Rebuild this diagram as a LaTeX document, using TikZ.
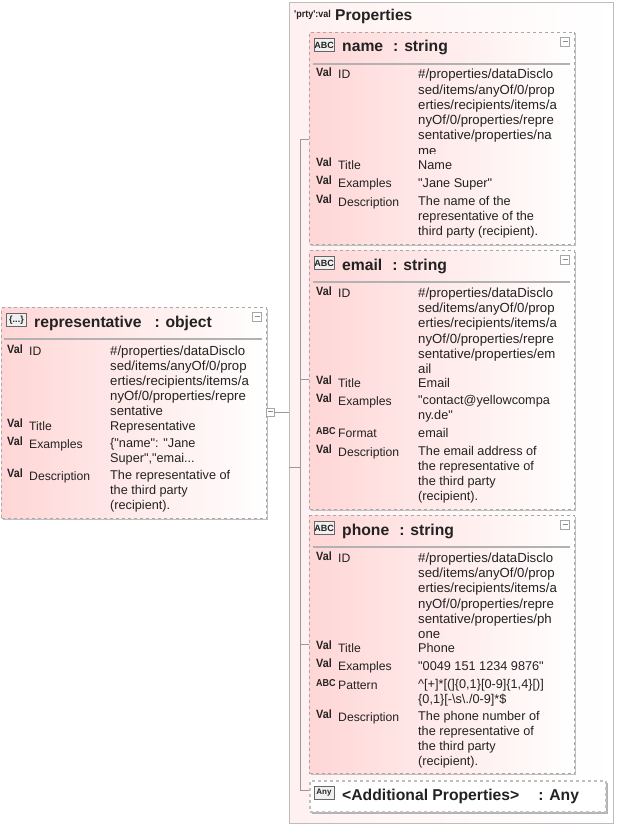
\documentclass[tikz,border=0pt]{standalone}
\usepackage{fontspec}
\setmainfont[Ligatures=TeXOff]{Liberation Sans}
\newfontfamily\valfont[FakeStretch=0.9]{Liberation Sans}
\usetikzlibrary{positioning,calc,shadows}
\definecolor{boxpink}{HTML}{FFD6D6}
\definecolor{framegray}{HTML}{BDBDBD}
\definecolor{dashgray}{HTML}{A8A8A8}
\definecolor{wiregray}{HTML}{999999}
\definecolor{inkgray}{HTML}{222222}
\newcommand{\togglebar}{\rule[2pt]{5pt}{0.7pt}}
\begin{document}
\begin{tikzpicture}[
  x=1pt, y=-1pt,
  font=\fontsize{12.2}{15}\selectfont, text=inkgray,
  outer/.style={draw=framegray, line width=1pt, left color=boxpink!35, right color=white, anchor=north west, inner sep=0pt},
  elem/.style={draw=dashgray, dashed, line width=1pt, left color=boxpink, right color=white, anchor=north west, inner sep=0pt,
               drop shadow={shadow xshift=1pt, shadow yshift=-1pt, fill=black!25, opacity=1}},
  anyelem/.style={elem, draw=black!25, line width=1.6pt, left color=white, right color=white,
               drop shadow={shadow xshift=2pt, shadow yshift=-2pt, fill=black!30, opacity=1}},
  head/.style={font=\fontsize{15.7}{18}\selectfont\bfseries, anchor=base west, inner sep=0pt},
  icon/.style={draw=black!60, fill=black!6, font=\fontsize{9}{9}\selectfont\bfseries, inner sep=0pt, minimum height=13pt, minimum width=20pt},
  toggle/.style={draw=black!35, fill=white, inner sep=0pt, minimum size=9pt, font=\fontsize{9}{9}\selectfont, text=black!45},
  rule/.style={draw=black!30, line width=2pt},
  tag/.style={font=\valfont\fontsize{12}{12}\selectfont\bfseries, anchor=base west, inner sep=0pt},
  abctag/.style={tag, font=\valfont\fontsize{10}{10}\selectfont\bfseries},
  key/.style={anchor=base west, inner sep=0pt},
  val/.style={font=\fontsize{12.7}{15}\selectfont, anchor=base west, inner sep=0pt, align=left},
  idval/.style={val, font=\fontsize{13.2}{15.25}\selectfont},
  wire/.style={draw=wiregray, line width=0.6pt},
]
\useasboundingbox (0,0) rectangle (618,824);

% root element
\node[elem, minimum width=265pt, minimum height=211pt] (repr) at (1,307) {};
\node[icon] (reprIcon) at (16.5,320) {\{...\}};
\node[head] (reprHead) at (34,327) {representative\hspace{13pt}: object};
\node[toggle] (reprToggle) at (257,317) {\togglebar};
\draw[rule] (4,339) -- (262,339);
\node[tag] (r1t) at (7,353) {Val};   \node[key] (r1k) at (29,355) {ID};
\node[idval, font=\fontsize{13.2}{15}\selectfont] (r1v) at (110,415) {\#/properties/dataDisclo\\sed/items/anyOf/0/prop\\erties/recipients/items/a\\nyOf/0/properties/repre\\sentative};
\node[tag] (r2t) at (7,427) {Val};   \node[key] (r2k) at (29,430) {Title};
\node[val] (r2v) at (110,430) {Representative};
\node[tag] (r3t) at (7,445) {Val};   \node[key] (r3k) at (29,448) {Examples};
\node[val] (r3v) at (110,462) {\{"name": "Jane\\Super","emai...};
\node[tag] (r4t) at (7,477) {Val};   \node[key] (r4k) at (29,480) {Description};
\node[val] (r4v) at (110,509) {The representative of\\the third party\\(recipient).};

% properties frame
\node[outer, minimum width=324pt, minimum height=821pt] (props) at (289,2) {};
\node[font=\valfont\fontsize{10}{10}\selectfont\bfseries, anchor=base west, inner sep=0pt] (propsTag) at (294,18) {'prty':val};
\node[font=\fontsize{15.6}{16}\selectfont\bfseries, anchor=base west, inner sep=0pt] (propsHead) at (335,21) {Properties};

% name
\node[elem, minimum width=265pt, minimum height=212pt] (name) at (309,32) {};
\node[icon] (nameIcon) at (324,45) {ABC};
\node[head] (nameHead) at (342,52) {name\hspace{10pt}: string};
\node[toggle] (nameToggle) at (565,42) {\togglebar};
\draw[rule] (313,64) -- (570,64);
\node[tag] (n1t) at (316,77) {Val};  \node[key] (n1k) at (338,79) {ID};
\begin{scope}
\clip (410,66) rectangle (572,153);
\node[idval] (n1v) at (418,155) {\#/properties/dataDisclo\\sed/items/anyOf/0/prop\\erties/recipients/items/a\\nyOf/0/properties/repre\\sentative/properties/na\\me};
\end{scope}
\node[tag] (n2t) at (316,166) {Val}; \node[key] (n2k) at (338,169) {Title};
\node[val] (n2v) at (418,169) {Name};
\node[tag] (n3t) at (316,184) {Val}; \node[key] (n3k) at (338,187) {Examples};
\node[val] (n3v) at (418,187) {"Jane Super"};
\node[tag] (n4t) at (316,203) {Val}; \node[key] (n4k) at (338,206) {Description};
\node[val] (n4v) at (418,235) {The name of the\\representative of the\\third party (recipient).};

% email
\node[elem, minimum width=265pt, minimum height=259pt] (email) at (309,250) {};
\node[icon] (emailIcon) at (324,263) {ABC};
\node[head] (emailHead) at (342,270) {email\hspace{10pt}: string};
\node[toggle] (emailToggle) at (565,260) {\togglebar};
\draw[rule] (313,282) -- (570,282);
\node[tag] (e1t) at (316,295) {Val};  \node[key] (e1k) at (338,297) {ID};
\begin{scope}
\clip (410,284) rectangle (572,372);
\node[idval] (e1v) at (418,373.5) {\#/properties/dataDisclo\\sed/items/anyOf/0/prop\\erties/recipients/items/a\\nyOf/0/properties/repre\\sentative/properties/em\\ail};
\end{scope}
\node[tag] (e2t) at (316,384) {Val};  \node[key] (e2k) at (338,387) {Title};
\node[val] (e2v) at (418,387) {Email};
\node[tag] (e3t) at (316,402) {Val};  \node[key] (e3k) at (338,405) {Examples};
\node[val] (e3v) at (418,419) {"contact@yellowcompa\\ny.de"};
\node[abctag] (e4t) at (316,434) {ABC};  \node[key] (e4k) at (338,437) {Format};
\node[val] (e4v) at (418,437) {email};
\node[tag] (e5t) at (316,453) {Val};  \node[key] (e5k) at (338,456) {Description};
\node[val] (e5v) at (418,500) {The email address of\\the representative of\\the third party\\(recipient).};

% phone
\node[elem, minimum width=265pt, minimum height=258pt] (phone) at (309,515) {};
\node[icon] (phoneIcon) at (324,528) {ABC};
\node[head] (phoneHead) at (342,535) {phone\hspace{10pt}: string};
\node[toggle] (phoneToggle) at (565,525) {\togglebar};
\draw[rule] (313,547) -- (570,547);
\node[tag] (p1t) at (316,560) {Val};  \node[key] (p1k) at (338,562) {ID};
\begin{scope}
\clip (410,549) rectangle (572,637);
\node[idval] (p1v) at (418,638.5) {\#/properties/dataDisclo\\sed/items/anyOf/0/prop\\erties/recipients/items/a\\nyOf/0/properties/repre\\sentative/properties/ph\\one};
\end{scope}
\node[tag] (p2t) at (316,649) {Val};  \node[key] (p2k) at (338,652) {Title};
\node[val] (p2v) at (418,652) {Phone};
\node[tag] (p3t) at (316,667) {Val};  \node[key] (p3k) at (338,670) {Examples};
\node[val] (p3v) at (418,670) {"0049 151 1234 9876"};
\node[abctag] (p4t) at (316,686) {ABC};  \node[key] (p4k) at (338,689) {Pattern};
\node[val] (p4v) at (418,703) {\^{}[+]*[(]\{0,1\}[0-9]\{1,4\}[)]\\\{0,1\}[-\textbackslash s\textbackslash ./0-9]*\$};
\node[tag] (p5t) at (316,718) {Val};  \node[key] (p5k) at (338,721) {Description};
\node[val] (p5v) at (418,765) {The phone number of\\the representative of\\the third party\\(recipient).};

% additional properties
\node[anyelem, minimum width=296pt, minimum height=31pt] (anyprop) at (309,780) {};
\node[icon, font=\fontsize{8}{8}\selectfont\bfseries] (anyIcon) at (324,793) {Any};
\node[head] (anyHead) at (342,800) {<Additional Properties>\hspace{19pt}: Any};

% connectors
\node[toggle, minimum size=8pt] (rootToggle) at (270,412) {\togglebar};
\coordinate (busTop) at (300,139);
\coordinate (busEmail) at (300,379);
\coordinate (busIn) at (300,467);
\coordinate (busPhone) at (300,644);
\coordinate (busBot) at (300,790);
\draw[wire] (rootToggle) -- (rootToggle -| props.west);
\draw[wire] (busIn -| props.west) -- (busIn);
\draw[wire] (busTop) -- (busBot);
\draw[wire] (busTop) -- (busTop -| name.west);
\draw[wire] (busEmail) -- (busEmail -| email.west);
\draw[wire] (busPhone) -- (busPhone -| phone.west);
\draw[wire] (busBot) -- (busBot -| anyprop.west);
\end{tikzpicture}
\end{document}
